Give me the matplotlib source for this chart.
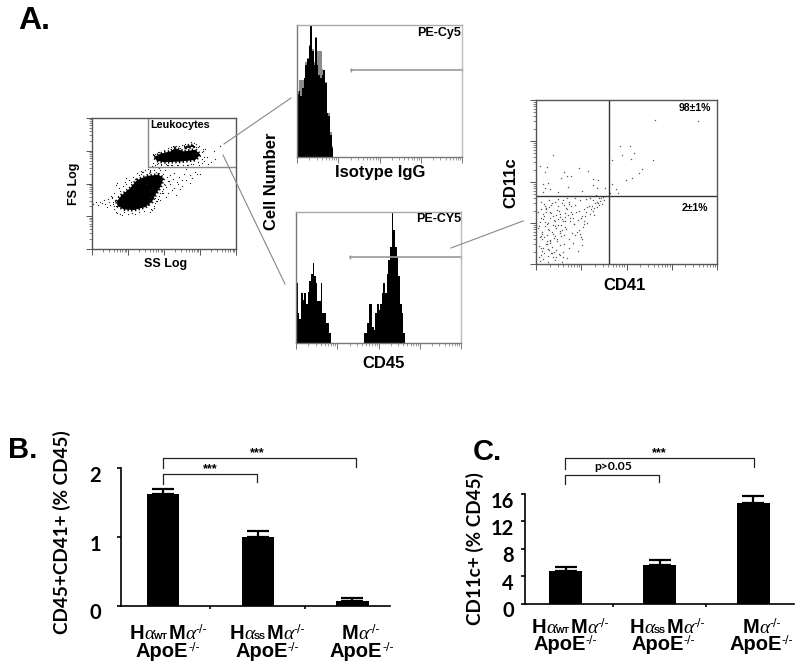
import numpy as np
import matplotlib
matplotlib.use('Agg')
import matplotlib.pyplot as plt
from matplotlib.ticker import LogLocator, NullFormatter
from matplotlib.transforms import ScaledTranslation

plt.rcParams['font.family'] = ['Liberation Sans', 'DejaVu Sans']

W, H = 800, 669

# bar charts
group_names = [('H', 'WT', 'M'), ('H', 'SS', 'M'), ('', '', 'M')]
b_means = [1.62, 1.00, 0.07]
b_errs = [0.08, 0.09, 0.04]
c_means = [4.77, 5.64, 14.74]
c_errs = [0.65, 0.75, 0.9]

# histograms, % of peak height, bins 0.04 decade wide
iso_black = [48, 50, 46, 52, 60, 70, 74, 84, 100, 80, 70, 90, 70, 62, 60, 62, 66, 56, 33, 31, 17, 7]
iso_grey = [50, 58, 58, 58, 60, 72, 75, 85, 100, 82, 72, 91, 80, 80, 80, 67, 66, 57, 33, 33, 19, 8]
cd45_left = [46, 23, 18, 38, 33, 38, 30, 39, 47, 53, 61, 51, 46, 32, 32, 46, 23, 23, 15, 15, 8]
cd45_gap = [0] * 20
cd45_right = [8, 8, 15, 30, 30, 12, 10, 23, 30, 25, 30, 38, 46, 38, 53, 63, 73, 100, 86, 73, 66, 51, 30, 23, 8]

# FS / SS dot plot, in decades
blob_low_x = [0.69, 0.83, 1.06, 1.25, 1.53, 1.85, 1.99, 1.90, 1.76, 1.67, 1.48, 1.16, 0.88, 0.71]
blob_low_y = [1.45, 1.65, 1.86, 2.11, 2.23, 2.27, 2.16, 1.89, 1.65, 1.45, 1.28, 1.19, 1.21, 1.32]
blob_high_x = [1.73, 1.90, 2.18, 2.31, 2.55, 2.87, 3.01, 2.87, 2.45, 1.99, 1.79]
blob_high_y = [2.81, 2.91, 2.98, 3.08, 2.98, 3.03, 2.88, 2.72, 2.67, 2.65, 2.70]
blob_top_x = [2.56, 2.70, 2.83, 2.82, 2.65]
blob_top_y = [3.11, 3.15, 3.18, 3.13, 3.09]
fs_ss_x = [0.03, 0.11, 0.17, 0.21, 0.29, 0.33, 0.36, 0.44, 0.47, 0.49, 0.56, 0.58, 0.63, 0.43, 0.52, 0.60,
           1.57, 1.62, 1.71, 1.77, 1.88, 1.96, 2.02, 2.08, 2.13, 2.18, 2.26, 2.29, 2.36, 2.41, 2.49, 2.55,
           2.61, 2.71, 2.77, 2.85, 2.93, 3.00, 2.05, 2.16, 2.27, 2.38, 2.51, 2.60, 2.72, 2.10, 2.23, 2.33,
           2.45, 1.98, 2.05, 1.90, 2.00, 2.12, 1.85, 1.80, 1.72, 1.60, 1.40, 1.55, 1.68, 2.65, 2.80, 3.05,
           3.12, 3.20, 3.30, 3.42, 3.38, 3.55, 3.05, 3.15, 2.95, 3.10, 3.22, 2.98, 2.75, 2.40, 2.20, 2.05,
           1.92, 1.82, 1.75, 1.70, 2.30, 2.45, 2.60, 2.90, 3.08, 1.65, 1.45, 1.30, 1.10, 0.90, 1.00, 1.20,
           1.55, 1.80, 1.95, 1.35, 1.65, 0.75, 0.62, 0.55, 0.66, 0.70, 0.95, 1.50, 1.62, 1.75, 1.62,
           1.72, 1.83, 1.94, 2.04, 2.11, 1.68, 1.76, 1.87, 1.97, 1.71, 1.79, 1.89, 0.61, 0.66, 0.72, 0.79, 0.86,
           0.58, 0.64, 0.70, 0.77, 0.83, 0.93, 1.03, 1.13, 1.24, 1.36, 1.48, 1.60, 0.95, 1.07, 1.19, 1.31, 1.43,
           1.70, 1.86, 2.01, 2.19, 2.34, 2.50, 2.68, 2.84, 2.98, 3.08, 1.69, 1.81, 1.93, 2.07, 2.22, 2.37, 2.52,
           2.66, 2.80, 2.94, 3.06, 1.74, 1.84, 2.10, 2.26, 2.42, 2.58, 2.74, 2.90]
fs_ss_y = [1.38, 1.42, 1.33, 1.45, 1.40, 1.50, 1.37, 1.52, 1.45, 1.34, 1.56, 1.42, 1.49, 1.29, 1.62, 1.32,
           2.31, 2.35, 2.28, 2.36, 2.40, 2.30, 2.42, 2.20, 2.08, 2.25, 2.15, 2.32, 2.05, 2.20, 2.12, 2.28,
           2.10, 2.25, 2.18, 2.35, 2.28, 2.30, 1.90, 1.98, 1.85, 2.00, 1.92, 2.45, 2.02, 1.72, 1.80, 1.65,
           1.82, 1.70, 1.58, 1.50, 2.00, 2.55, 2.46, 2.50, 2.42, 2.38, 2.34, 2.44, 2.52, 2.55, 2.50, 2.62,
           2.70, 2.82, 2.65, 2.75, 3.00, 3.15, 2.95, 3.05, 3.10, 2.80, 2.60, 2.55, 2.60, 2.58, 2.56, 2.60,
           2.60, 2.62, 2.58, 2.90, 3.12, 3.08, 3.08, 3.10, 3.00, 1.22, 1.16, 1.12, 1.10, 1.12, 1.08, 1.06,
           1.35, 1.48, 1.76, 2.30, 1.60, 1.85, 1.70, 1.58, 1.95, 2.02, 2.18, 1.98, 1.80, 1.55, 1.12,
           1.30, 1.52, 1.72, 1.95, 2.08, 1.18, 1.40, 1.62, 1.84, 1.26, 1.46, 1.70, 1.22, 1.12, 1.62, 1.78, 1.92,
           1.36, 1.48, 1.10, 1.07, 1.05, 2.04, 2.12, 2.20, 2.32, 2.38, 2.40, 2.42, 1.98, 2.04, 2.14, 2.26, 2.34,
           2.86, 2.97, 3.03, 3.12, 3.16, 3.18, 3.22, 3.24, 3.14, 3.05, 2.62, 2.60, 2.58, 2.57, 2.56, 2.55, 2.56,
           2.58, 2.61, 2.65, 2.74, 2.90, 2.96, 3.07, 3.14, 3.13, 3.20, 3.26, 3.20]

# CD41 / CD11c dot plot, in decades
cd41_x = [1.85, 2.08, 2.63, 3.59, 1.69, 1.91, 2.17, 2.10, 2.58, 2.35, 2.27, 2.12, 1.99, 1.68, 1.77, 1.82, 1.64,
          0.37, 0.09, 0.24, 0.20, 0.62, 0.94, 1.16, 0.55, 0.69, 0.77, 1.27, 1.36, 0.16, 0.27, 0.20, 0.30, 0.70,
          1.27, 1.34, 0.15, 0.49, 1.01, 1.53,
          0.11, 0.17, 0.28, 0.33, 0.43, 0.49, 0.57, 0.67, 0.74, 0.86, 0.94, 1.06, 1.13, 1.23, 1.31, 1.37, 1.46, 1.51,
          0.05, 0.15, 0.21, 0.31, 0.37, 0.47, 0.53, 0.63, 0.71, 0.81, 0.89, 1.01, 1.07, 1.19, 1.25, 1.35, 1.41,
          0.08, 0.16, 0.25, 0.32, 0.41, 0.48, 0.57, 0.64, 0.75, 0.83, 0.95, 1.03, 1.12,
          0.04, 0.13, 0.19, 0.28, 0.37, 0.44, 0.52, 0.61, 0.67, 0.79, 0.87, 0.99,
          0.09, 0.14, 0.24, 0.30, 0.40, 0.46, 0.56, 0.62, 0.72, 0.82, 1.02,
          0.06, 0.12, 0.22, 0.29, 0.36, 0.45, 0.54, 0.60, 0.73, 0.92,
          0.10, 0.18, 0.27, 0.35, 0.44, 0.51, 0.59, 0.68, 0.09, 0.16, 0.26, 0.41, 0.57, 0.07, 0.14, 0.26, 0.40, 0.53,
          1.20, 1.32, 1.40, 1.10, 0.98, 0.86, 1.28, 1.48, 1.02, 0.90, 0.78, 0.68, 0.60,
          1.26, 1.34, 1.43, 1.39, 1.29, 1.21, 1.11, 1.17, 1.09, 0.99, 1.05, 0.93, 0.97, 0.84, 0.77,
          0.12, 0.19, 0.23, 0.34, 0.39, 0.26, 0.18, 0.31, 0.42, 0.36, 0.24, 0.13, 0.29, 0.46, 0.52,
          0.58, 0.50, 0.65, 0.38, 0.20, 0.07, 0.15, 0.33, 0.27, 0.44, 0.55, 0.69, 0.76, 0.62, 0.48,
          0.17, 0.11, 0.22, 0.35, 0.30, 0.41, 0.49, 0.59, 0.72, 0.80, 0.64, 0.53, 0.25, 0.10, 0.37]
cd41_y = [2.87, 2.89, 3.52, 3.50, 2.54, 2.67, 2.71, 2.57, 2.53, 2.32, 2.22, 2.10, 2.06, 1.96, 1.83, 1.73, 1.73,
          2.67, 2.40, 2.36, 2.24, 2.24, 2.34, 2.28, 2.10, 2.14, 2.14, 2.07, 2.04, 1.95, 1.98, 1.85, 1.83, 1.87,
          1.93, 1.85, 1.75, 1.76, 1.77, 1.85,
          1.52, 1.47, 1.55, 1.45, 1.51, 1.41, 1.48, 1.37, 1.52, 1.44, 1.29, 1.35, 1.38, 1.41, 1.48, 1.50, 1.46, 1.55,
          1.28, 1.21, 1.33, 1.26, 1.17, 1.31, 1.15, 1.25, 1.19, 1.12, 1.28, 1.18, 1.05, 1.22, 1.30, 1.40, 1.54,
          1.02, 1.09, 0.97, 1.11, 1.04, 0.95, 1.10, 0.91, 1.04, 0.98, 0.83, 0.90, 1.00,
          0.87, 0.77, 0.93, 0.84, 0.73, 0.89, 0.80, 0.71, 0.86, 0.75, 0.70, 0.66,
          0.65, 0.60, 0.71, 0.57, 0.64, 0.55, 0.68, 0.50, 0.61, 0.52, 0.46,
          0.44, 0.39, 0.48, 0.35, 0.42, 0.33, 0.46, 0.30, 0.40, 0.32,
          0.22, 0.28, 0.19, 0.26, 0.16, 0.24, 0.18, 0.14, 0.08, 0.12, 0.06, 0.10, 0.04, 0.16, 0.32, 0.36, 0.30, 0.22,
          1.62, 1.68, 1.60, 1.58, 1.55, 1.62, 1.20, 1.64, 0.62, 0.78, 1.42, 1.62, 1.56,
          1.57, 1.52, 1.62, 1.44, 1.36, 1.33, 1.27, 1.42, 1.17, 1.12, 0.97, 1.07, 0.74, 0.98, 1.27,
          1.13, 1.03, 1.36, 1.24, 1.08, 0.86, 0.67, 0.52, 0.93, 0.79, 0.56, 0.74, 1.39, 0.61, 1.22,
          0.83, 1.30, 1.14, 0.96, 1.42, 0.92, 0.38, 0.26, 1.01, 1.20, 0.94, 1.33, 1.12, 1.44, 1.58,
          1.18, 0.69, 1.26, 1.48, 0.58, 0.69, 1.09, 1.06, 1.46, 1.21, 1.05, 0.76, 0.48, 1.34, 0.17]


def box(l, t, r, b, **kw):
    return fig.add_axes([l / W, 1 - b / H, (r - l) / W, (b - t) / H], **kw)


def log_frame(ax, color='#555555'):
    ax.set_xscale('log')
    ax.set_xlim(1, 1e4)
    ax.xaxis.set_major_locator(LogLocator(base=10, numticks=6))
    ax.xaxis.set_minor_locator(LogLocator(base=10, subs=np.arange(2, 10), numticks=6))
    ax.xaxis.set_major_formatter(NullFormatter())
    ax.xaxis.set_minor_formatter(NullFormatter())
    ax.tick_params(which='major', length=4, width=0.7, color=color)
    ax.tick_params(which='minor', length=2, width=0.5, color=color)
    for s in ax.spines.values():
        s.set_color(color)
        s.set_linewidth(1)


def log_y(ax):
    ax.set_yscale('log')
    ax.set_ylim(1, 1e4)
    ax.yaxis.set_major_locator(LogLocator(base=10, numticks=6))
    ax.yaxis.set_minor_locator(LogLocator(base=10, subs=np.arange(2, 10), numticks=6))
    ax.yaxis.set_major_formatter(NullFormatter())
    ax.yaxis.set_minor_formatter(NullFormatter())


def hist_panel(l, t, r, b, series, gate_y):
    ax = box(l, t, r, b)
    log_frame(ax, '#777777')
    ax.spines['top'].set_color('#aaaaaa')
    ax.spines['right'].set_color('#bbbbbb')
    ax.set_ylim(0, 100)
    ax.set_yticks([])
    for vals, col in series:
        edges = 10 ** (np.arange(len(vals) + 1) * 0.04)
        ax.stairs(vals, edges, fill=True, color=col, lw=0.4)
    ax.plot([10 ** 1.31, 1e4], [gate_y, gate_y], color='#999999', lw=1.2, marker='|', ms=3, clip_on=False)
    return ax


def bar_panel(l, t, r, b, means, errs, ymax, yticks, left, right, width, pad):
    ax = box(l, t, r, b)
    x = np.arange(len(means))
    ax.bar(x, means, width=width, color='black')
    ax.errorbar(x, means, yerr=[[0] * 3, errs], fmt='none', ecolor='black', elinewidth=1.6, capsize=8, capthick=1.6)
    ax.set_xlim(left, right)
    ax.set_ylim(0, ymax)
    ax.set_xticks([0.5, 1.5])
    ax.set_xticklabels([])
    ax.set_yticks(yticks)
    ax.tick_params(axis='y', length=3, width=1.2, pad=pad)
    ax.tick_params(axis='x', length=2, width=1.2)
    ax.set_yticklabels([str(v) for v in yticks], family='Lato', fontweight='bold', fontsize=14.5)
    for lab in ax.get_yticklabels():
        lab.set_transform(lab.get_transform() + ScaledTranslation(0, -4 / 72, fig.dpi_scale_trans))
    ax.spines['top'].set_visible(False)
    ax.spines['right'].set_visible(False)
    ax.spines['left'].set_linewidth(1.2)
    ax.spines['bottom'].set_linewidth(1.2)
    return ax


fig = plt.figure(figsize=(W / 100, H / 100), dpi=100)

# FS / SS
ax1 = box(92, 118, 236, 249)
log_frame(ax1)
log_y(ax1)
for bx, by in [(blob_low_x, blob_low_y), (blob_high_x, blob_high_y), (blob_top_x, blob_top_y)]:
    ax1.fill(10 ** np.array(bx), 10 ** np.array(by), facecolor='black', edgecolor='black', lw=2.4, ls=(0, (0.4, 0.7)))
ax1.plot(10 ** np.array(fs_ss_x), 10 ** np.array(fs_ss_y), ls='none', marker='s', ms=0.8, mew=0, color='#222222')
ax1.plot([10 ** 1.56, 10 ** 1.56, 1e4], [1e4, 10 ** 2.5, 10 ** 2.5], color='#888888', lw=1)

# histograms
hist_panel(297, 25, 462, 157, [(iso_grey, '#8a8a8a'), (iso_black, 'black')], 66)
hist_panel(296, 212, 461, 343, [(cd45_left + cd45_gap + cd45_right, 'black')], 66)

# CD41 / CD11c
ax4 = box(536, 100, 717, 264)
log_frame(ax4)
log_y(ax4)
ax4.plot(10 ** np.array(cd41_x), 10 ** np.array(cd41_y), ls='none', marker='s', ms=0.9, mew=0, color='#555555')
ax4.axvline(10 ** 1.62, color='#333333', lw=1)
ax4.axhline(10 ** 1.66, color='#333333', lw=1)

# bars
bar_panel(120.7, 468.3, 390, 605.7, b_means, b_errs, 2, [0, 1, 2], -0.447, 2.397, 0.34, 11)
bar_panel(525, 494, 794, 603.7, c_means, c_errs, 16, [0, 4, 8, 12, 16], -0.431, 2.431, 0.345, 5)

# everything else is placed in pixels on a full figure layer
ov = fig.add_axes([0, 0, 1, 1], zorder=10)
ov.set_xlim(0, W)
ov.set_ylim(H, 0)
ov.axis('off')
ov.patch.set_alpha(0)

for xs, ys in [([224, 291], [144, 98]), ([223, 285], [155, 284]), ([451, 523], [248, 221])]:
    ov.plot(xs, ys, color='#888888', lw=0.8)

for xs, ys in [([162.7, 162.7, 356, 356], [468, 458.3, 458.3, 466.7]),
               ([162.7, 162.7, 256.7, 256.7], [484, 474, 474, 482.3]),
               ([565, 565, 754, 754], [469, 458.3, 458.3, 467]),
               ([565, 565, 659, 659], [484, 475, 475, 482])]:
    ov.plot(xs, ys, color='#222222', lw=0.9)


def txt(x, y, s, size, rot=0, ha='center', fam=None):
    ov.text(x, y, s, fontsize=size, fontweight='bold', rotation=rot, ha=ha, va='center',
            family=fam if fam else 'Liberation Sans')


# a label made of runs: (string, size, weight, family, style, lift in px)
def runs(cx, base, parts):
    rend = fig.canvas.get_renderer()
    items = []
    total = 0
    for s, size, weight, fam, style, lift in parts:
        t = ov.text(0, base - lift, s, fontsize=size, fontweight=weight, family=fam, style=style,
                    ha='left', va='baseline')
        w = t.get_window_extent(rend).width
        items.append((t, w))
        total += w
    x = cx - total / 2
    for t, w in items:
        t.set_x(x)
        x += w


def line1(cx, base, name):
    parts = []
    alpha = ('α', 14, 'normal', 'Liberation Serif', 'italic', 0)
    if name[0]:
        parts.append((name[0], 14.5, 'bold', 'Liberation Sans', 'normal', 0))
        parts.append(alpha)
        parts.append((name[1], 6.5, 'bold', 'Liberation Sans', 'normal', 0))
    parts.append((name[2], 14.5, 'bold', 'Liberation Sans', 'normal', 0))
    parts.append(alpha)
    parts.append(('-/-', 9, 'normal', 'Liberation Sans', 'normal', 6))
    runs(cx, base, parts)


def line2(cx, base):
    runs(cx, base, [('ApoE', 14.5, 'bold', 'Liberation Sans', 'normal', 0),
                    ('-/-', 9, 'normal', 'Liberation Sans', 'normal', 6)])


txt(18, 21, 'A.', 23, ha='left')
txt(8, 450, 'B.', 21, ha='left')
txt(473, 452, 'C.', 21, ha='left')
txt(150, 125, 'Leukocytes', 7.8, ha='left')
txt(74, 184, 'FS Log', 9, rot=90)
txt(166, 264, 'SS Log', 9)
txt(272, 181, 'Cell Number', 12, rot=90)
txt(380, 172, 'Isotype IgG', 12)
txt(384, 364, 'CD45', 12)
txt(625, 286, 'CD41', 12)
txt(511, 183, 'CD11c', 12, rot=90)
txt(461, 33, 'PE-Cy5', 9, ha='right')
txt(461, 219, 'PE-CY5', 9, ha='right')
txt(711, 108, '98±1%', 7.5, ha='right')
txt(695, 208, '2±1%', 7.5)

txt(62, 532, 'CD45+CD41+ (% CD45)', 13.6, rot=90, fam='Lato')
txt(475, 549, 'CD11c+ (% CD45)', 13.6, rot=90, fam='Lato')
txt(210, 469, '***', 9)
txt(257, 453, '***', 9)
txt(659, 453, '***', 9)
txt(613, 467, 'p>0.05', 8.7, fam='Lato')

for cx, name in zip([168, 267, 361], group_names):
    line1(cx, 639, name)
for cx in [168, 267, 362]:
    line2(cx, 657)
for cx, name in zip([570, 667, 762], group_names):
    line1(cx, 633, name)
for cx in [565, 663, 761]:
    line2(cx, 650)

fig.savefig('out.png', dpi=100)
